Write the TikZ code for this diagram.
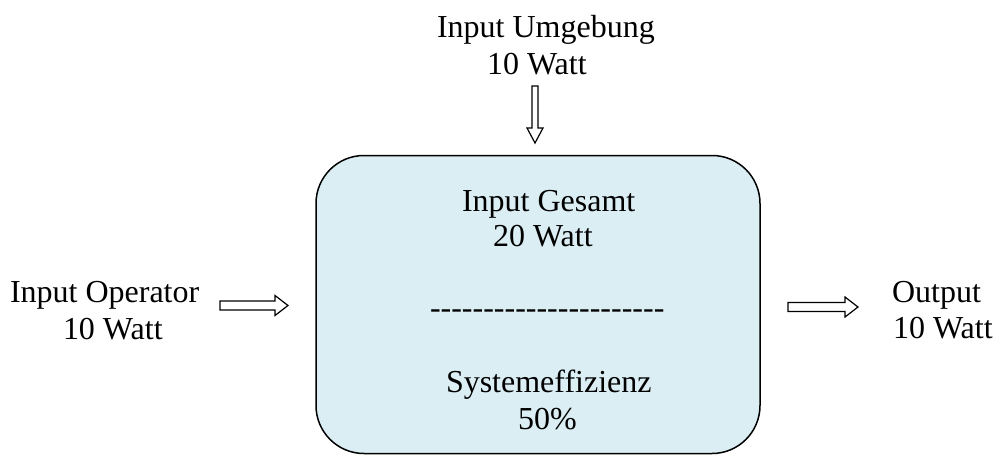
\documentclass[tikz,border=0pt]{standalone}
\usepackage{fontspec}
\setmainfont{Liberation Serif}
\definecolor{boxfill}{HTML}{DAEEF3}
\newcommand{\hy}{\mbox{-}}
\begin{document}
\begin{tikzpicture}[x=1pt,y=-1pt,
  txt/.style={inner sep=0pt,outer sep=0pt,anchor=base west,font=\fontsize{32}{37}\selectfont},
  bigbox/.style={draw=black,line width=1.5pt,fill=boxfill,rounded corners=48pt,inner sep=0pt,minimum width=444pt,minimum height=298pt},
  blockarrow/.style={draw=black,line width=1.2pt,fill=white,line join=miter}]
\useasboundingbox (0,0) rectangle (997,455);
% main box
\node[bigbox] (sys) at (538,304.5) {};
% texts
\node[txt] (umg1) at (437,37) {Input Umgebung};
\node[txt] (umg2) at (487,74) {10 Watt};
\node[txt] (op1) at (10,302) {Input Operator};
\node[txt] (op2) at (63,339) {10 Watt};
\node[txt] (out1) at (892,302) {Output};
\node[txt] (out2) at (893,338) {10 Watt};
\node[txt] (ges1) at (462,211) {Input Gesamt};
\node[txt] (ges2) at (493,246) {20 Watt};
\node[txt] (sep) at (430,318) {\hy\hy\hy\hy\hy\hy\hy\hy\hy\hy\hy\hy\hy\hy\hy\hy\hy\hy\hy\hy\hy\hy};
\node[txt] (eff1) at (446,392) {Systemeffizienz};
\node[txt] (eff2) at (518,429) {50\%};
% block arrows
\coordinate (ltip) at (288,305.5);
\draw[blockarrow] (ltip) -- ++(-13,-10) -- ++(0,5.5) -- ++(-55,0) -- ++(0,9) -- ++(55,0) -- ++(0,5.5) -- cycle;
\coordinate (rtip) at (858,307);
\draw[blockarrow] (rtip) -- ++(-13,-10) -- ++(0,5.5) -- ++(-57,0) -- ++(0,9) -- ++(57,0) -- ++(0,5.5) -- cycle;
\coordinate (ttip) at (535,143);
\draw[blockarrow] (ttip) -- ++(-8,-15) -- ++(5,0) -- ++(0,-42) -- ++(6,0) -- ++(0,42) -- ++(5,0) -- cycle;
\end{tikzpicture}
\end{document}
